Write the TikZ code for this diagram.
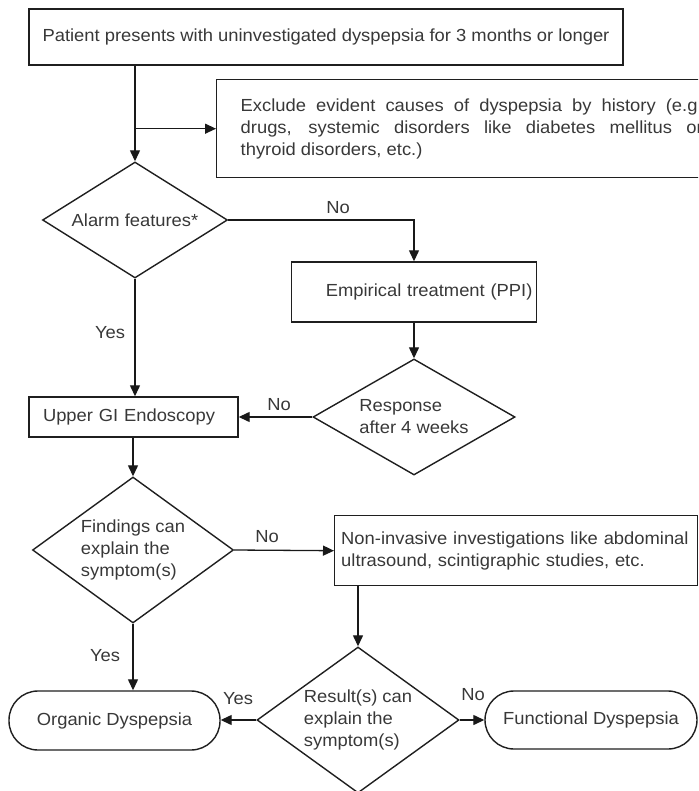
\documentclass[tikz,border=0pt]{standalone}
\usepackage{fontspec}
\setmainfont[FakeStretch=1.05]{Liberation Sans}
\usetikzlibrary{shapes.geometric,arrows.meta}
\begin{document}
\begin{tikzpicture}[x=1pt,y=-1pt,
  every node/.style={font=\fontsize{17.5}{22}\selectfont, text=black!78},
  box/.style={draw=black!88, line width=1.4pt, rectangle, inner sep=0pt},
  terminal/.style={draw=black!88, line width=1.4pt, rectangle, rounded corners=29pt, inner sep=0pt},
  decision/.style={draw=black!88, line width=1.4pt, diamond, inner sep=0pt},
  lbl/.style={inner sep=0pt},
  flow/.style={draw=black!90, line width=1.3pt, -{Triangle[length=11pt,width=10pt]}}
]
\useasboundingbox (0,0) rectangle (698,791);
\clip (0,0) rectangle (698,791);

% boxes and decisions
\node[box, minimum width=594pt, minimum height=56pt] (start) at (326,37)
  {Patient presents with uninvestigated dyspepsia for 3 months or longer};
\node[box, anchor=north west, inner xsep=24pt, text width=462pt, align=justify,
      minimum height=98pt] (excl) at (216,79)
  {Exclude evident causes of dyspepsia by history (e.g.\linebreak
   drugs, systemic disorders like diabetes mellitus or\linebreak
   thyroid disorders, etc.)};
\node[decision, minimum width=185pt, minimum height=116pt,
      label={[lbl]center:Alarm features*}] (alarm) at (135,220) {};
\node[box, minimum height=60pt, inner xsep=4pt, text width=237pt, align=right]
  (emp) at (414,292) {Empirical treatment (PPI)};
\node[decision, minimum width=202pt, minimum height=116pt,
      label={[lbl,align=left]center:Response\\after 4 weeks}] (resp) at (414,417) {};
\node[box, minimum height=40pt, inner xsep=14pt, text width=181pt, align=left]
  (endo) at (133.5,417) {Upper GI Endoscopy};
\node[decision, minimum width=201pt, minimum height=146pt,
      label={[lbl,align=left]center:Findings can\\explain the\\symptom(s)}] (find) at (133,550) {};
\node[box, anchor=north west, minimum height=70pt, inner xsep=6.5pt, text width=350pt, align=left]
  (noninv) at (334,515)
  {Non-invasive investigations like abdominal\\ultrasound, scintigraphic studies, etc.};
\node[decision, minimum width=202pt, minimum height=146pt,
      label={[lbl,align=left]center:Result(s) can\\explain the\\symptom(s)}] (result) at (358,720) {};
\node[terminal, minimum width=211pt, minimum height=59pt] (org) at (114.5,720.5) {Organic Dyspepsia};
\node[terminal, minimum width=212pt, minimum height=58pt] (func) at (591,720) {Functional Dyspepsia};

% connectors
\draw[flow] (start.south -| alarm.north) -- (alarm.north);
\coordinate (br) at (alarm.north |- excl.west);
\draw[flow] (br) -- (excl.west);
\draw[flow] (alarm.east) -| (emp.north);
\draw[flow] (alarm.south) -- (alarm.south |- endo.north);
\draw[flow] (emp.south) -- (resp.north);
\draw[flow] (resp.west) -- (endo.east);
\draw[flow] (endo.south -| find.north) -- (find.north);
\draw[flow] (find.east) -- (noninv.west);
\draw[flow] (noninv.south -| result.north) -- (result.north);
\draw[flow] (find.south) -- (find.south |- org.north);
\draw[flow] (result.west) -- (result.west -| org.east);
\draw[flow] (result.east) -- (func.west);

% branch labels
\node[lbl] (l1) at (338,208) {No};
\node[lbl] (l2) at (110,333) {Yes};
\node[lbl] (l3) at (279,405) {No};
\node[lbl] (l4) at (267,537) {No};
\node[lbl] (l5) at (105,656) {Yes};
\node[lbl] (l6) at (238,699) {Yes};
\node[lbl] (l7) at (473,695) {No};
\end{tikzpicture}
\end{document}
